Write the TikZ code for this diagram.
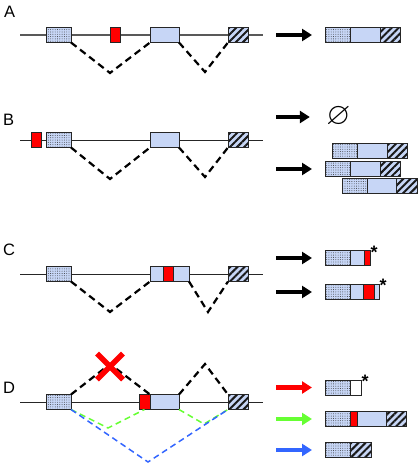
\documentclass[tikz,border=0pt]{standalone}
\usepackage{fontspec}
\setmainfont{Liberation Sans}
\usepackage{amssymb}
\usetikzlibrary{arrows.meta, positioning, patterns.meta}

\definecolor{exonblue}{RGB}{199,214,246}
\definecolor{nmdred}{RGB}{255,0,0}
\definecolor{skipgreen}{RGB}{102,255,51}
\definecolor{skipblue}{RGB}{51,102,255}

\begin{document}
\begin{tikzpicture}[x=1pt, y=-1pt]
		\tikzstyle{Exon} = [rectangle, inner sep=0pt, outer sep=0pt, minimum height=15pt, draw=black!85, line width=0.8pt, fill=exonblue]
		\tikzstyle{First} = [Exon, preaction={fill=exonblue}, pattern={Dots[distance=2.3pt, radius=0.45pt]}, pattern color=black!80]
		\tikzstyle{Last} = [Exon, preaction={fill=exonblue}, pattern={Lines[angle=45, distance=5pt, line width=2pt]}, pattern color=black!90]
		\tikzstyle{Stop} = [Exon, fill=nmdred]
		\tikzstyle{Blank} = [Exon, fill=white]
		\tikzstyle{intron} = [line width=1pt, black!85]
		\tikzstyle{splice} = [dash pattern=on 7pt off 4.5pt, line width=2.2pt]
		\tikzstyle{alt} = [dash pattern=on 6pt off 4pt, line width=1.5pt]
		\tikzstyle{arrow} = [line width=4.2pt, -{Triangle[length=10pt, width=12pt]}, shorten >=13pt]
		\tikzstyle{Cross} = [nmdred, line width=5.5pt]
		\tikzstyle{Panel} = [anchor=base west, inner sep=0pt, font=\fontsize{16.5}{18}\selectfont]
		\tikzstyle{star} = [inner sep=0pt, font=\bfseries\fontsize{18}{18}\selectfont]
		
		\fill[white] (0,0) rectangle (420,469);
		\useasboundingbox (0,0) rectangle (420,469);
		
		% A
		\node (A) [Panel] at (4,17) {A};
		\coordinate (aL) at (20,35);
		\coordinate (aR) at (263,35);
		\draw[intron, line width=1.6pt, black!65] (aL) -- (aR);
		\node (a1) [First, minimum width=25pt, anchor=west] at (46,35) {};
		\node (a2) [Stop, minimum width=10pt, anchor=west] at (110,35) {};
		\node (a3) [Exon, minimum width=29pt, anchor=west] at (150,35) {};
		\node (a4) [Last, minimum width=20pt, anchor=west] at (228,35) {};
		\coordinate (av1) at (110,73);
		\coordinate (av2) at (205,72);
		\draw[splice] (a1.south east) -- (av1) -- (a3.south west);
		\draw[splice] (a3.south east) -- (av2) -- (a4.south west);
		
		\node (ta1) [First, minimum width=25pt, anchor=west] at (325,35) {};
		\node (ta2) [Exon, minimum width=30pt, right = 0pt of ta1] {};
		\node (ta3) [Last, minimum width=20pt, right = 0pt of ta2] {};
		\coordinate (arA) at (276,35);
		\draw[arrow] (arA) -- (ta1.west);
		
		% B
		\node (B) [Panel] at (3,125) {B};
		\coordinate (bL) at (20,140);
		\coordinate (bR) at (263,140);
		\draw[intron] (bL) -- (bR);
		\node (b0) [Stop, minimum width=10pt, anchor=west] at (31,140) {};
		\node (b1) [First, minimum width=25pt, anchor=west] at (46,140) {};
		\node (b3) [Exon, minimum width=29pt, anchor=west] at (150,140) {};
		\node (b4) [Last, minimum width=20pt, anchor=west] at (228,140) {};
		\coordinate (bv1) at (110,179);
		\coordinate (bv2) at (205,177);
		\draw[splice] (b1.south east) -- (bv1) -- (b3.south west);
		\draw[splice] (b3.south east) -- (bv2) -- (b4.south west);
		
		\node (empty) [inner sep=0pt, scale=3.1] at (338.5,117) {$\varnothing$};
		\coordinate (arB1) at (276,117);
		\draw[arrow, shorten >=16pt] (arB1) -- (empty.west);
		
		\node (tb11) [First, minimum width=25pt, anchor=west] at (332,150.5) {};
		\node (tb12) [Exon, minimum width=30pt, right = 0pt of tb11] {};
		\node (tb13) [Last, minimum width=20pt, right = 0pt of tb12] {};
		\node (tb21) [First, minimum width=25pt, anchor=west] at (325,169) {};
		\node (tb22) [Exon, minimum width=30pt, right = 0pt of tb21] {};
		\node (tb23) [Last, minimum width=20pt, right = 0pt of tb22] {};
		\node (tb31) [First, minimum width=25pt, anchor=west] at (342,186) {};
		\node (tb32) [Exon, minimum width=29pt, right = 0pt of tb31] {};
		\node (tb33) [Last, minimum width=21pt, right = 0pt of tb32] {};
		\coordinate (arB2) at (276,169);
		\draw[arrow] (arB2) -- (tb21.west);
		
		% C
		\node (C) [Panel] at (3,255) {C};
		\coordinate (cL) at (20,274);
		\coordinate (cR) at (263,274);
		\draw[intron] (cL) -- (cR);
		\node (c1) [First, minimum width=25pt, anchor=west] at (46,274) {};
		\node (c3) [Exon, minimum width=39pt, anchor=west] at (150,274) {};
		\node (c2) [Stop, minimum width=10pt] at (168,274) {};
		\node (c4) [Last, minimum width=20pt, anchor=west] at (228,274) {};
		\coordinate (cv1) at (110,312);
		\coordinate (cv2) at (208,312);
		\draw[splice] (c1.south east) -- (cv1) -- (c3.south west);
		\draw[splice] (c3.south east) -- (cv2) -- (c4.south west);
		
		\node (tc11) [First, minimum width=25pt, anchor=west] at (325,258) {};
		\node (tc12) [Exon, minimum width=14pt, right = 0pt of tc11] {};
		\node (tc13) [Stop, minimum width=6pt, right = 0pt of tc12] {};
		\node (sc1) [star] at (374,252) {*};
		\coordinate (arC1) at (276,258);
		\draw[arrow] (arC1) -- (tc11.west);
		
		\node (tc21) [First, minimum width=25pt, anchor=west] at (325,292) {};
		\node (tc22) [Exon, minimum width=13pt, right = 0pt of tc21] {};
		\node (tc23) [Stop, minimum width=11pt, right = 0pt of tc22] {};
		\node (tc24) [Exon, minimum width=5pt, right = 0pt of tc23] {};
		\node (sc2) [star] at (383,285.5) {*};
		\coordinate (arC2) at (276,292);
		\draw[arrow] (arC2) -- (tc21.west);
		
		% D
		\node (D) [Panel] at (3,393) {D};
		\coordinate (dL) at (20,402);
		\coordinate (dR) at (263,402);
		\draw[intron] (dL) -- (dR);
		\node (d1) [First, minimum width=25pt, anchor=west] at (46,402) {};
		\node (d2) [Stop, minimum width=11pt, anchor=west] at (139,402) {};
		\node (d3) [Exon, minimum width=29pt, anchor=west] at (150,402) {};
		\node (d4) [Last, minimum width=20pt, anchor=west] at (228,402) {};
		\coordinate (dv1) at (110,364);
		\coordinate (dv2) at (205,364);
		\draw[splice] (d1.north east) -- (dv1) -- (d3.north west);
		\draw[splice] (d3.north east) -- (dv2) -- (d4.north west);
		\coordinate (xc) at (110,366.5);
		\draw[Cross] ([shift={(-13,-13)}]xc) -- ([shift={(13,13)}]xc);
		\draw[Cross] ([shift={(13,-13)}]xc) -- ([shift={(-13,13)}]xc);
		\coordinate (gv1) at (108,428);
		\coordinate (gv2) at (204,424);
		\coordinate (uv) at (148,462);
		\draw[alt, skipgreen] (d1.south east) -- (gv1) -- (d2.south);
		\draw[alt, skipgreen] (d3.south east) -- (gv2) -- (d4.south west);
		\draw[alt, skipblue] (d1.south east) -- (uv) -- (d4.south west);
		
		\node (td11) [First, minimum width=25pt, anchor=west] at (325,387.5) {};
		\node (td12) [Blank, minimum width=11pt, right = 0pt of td11] {};
		\node (sd1) [star] at (365,381) {*};
		\coordinate (arD1) at (276,387.5);
		\draw[arrow, nmdred] (arD1) -- (td11.west);
		
		\node (td21) [First, minimum width=25pt, anchor=west] at (325,419) {};
		\node (td22) [Stop, minimum width=7pt, right = 0pt of td21] {};
		\node (td23) [Exon, minimum width=29pt, right = 0pt of td22] {};
		\node (td24) [Last, minimum width=20pt, right = 0pt of td23] {};
		\coordinate (arD2) at (276,419);
		\draw[arrow, skipgreen] (arD2) -- (td21.west);
		
		\node (td31) [First, minimum width=25pt, anchor=west] at (325,450) {};
		\node (td32) [Last, minimum width=21pt, right = 0pt of td31] {};
		\coordinate (arD3) at (276,450);
		\draw[arrow, skipblue] (arD3) -- (td31.west);
		
\end{tikzpicture}
\end{document}
